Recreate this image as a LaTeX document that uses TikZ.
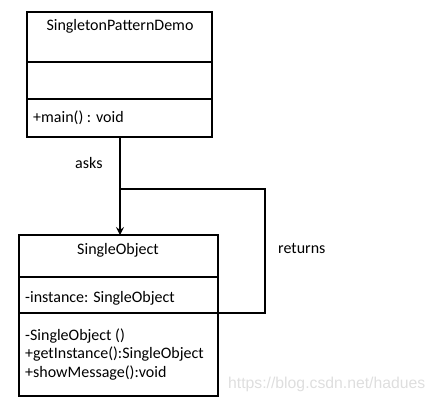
\documentclass[tikz,border=0pt]{standalone}
\usepackage{fontspec}
\setmainfont{Carlito}
\newfontfamily\markfont{Liberation Sans}
\usetikzlibrary{arrows.meta,positioning}

\begin{document}
\begin{tikzpicture}[x=1pt,y=-1pt,
    part/.style={draw,line width=1.8pt,inner sep=0pt,outer sep=0pt},
    txt/.style={font=\fontsize{16}{18.5}\selectfont,inner sep=0pt},
    link/.style={line width=2.2pt}]
  \useasboundingbox (0,0) rectangle (435,402);

  % SingletonPatternDemo class
  \node[part,minimum width=185,minimum height=50,anchor=north] (demoname) at (119.5,12) {};
  \node[part,minimum width=185,minimum height=37,below=0pt of demoname] (demoattr) {};
  \node[part,minimum width=185,minimum height=38,below=0pt of demoattr] (demoops) {};
  \node[txt,anchor=base] (demotitle) at (120,30) {SingletonPatternDemo};
  \node[txt,anchor=base west] (demomain) at (33,122) {+main() : void};

  % SingleObject class
  \node[part,minimum width=199,minimum height=42,anchor=north] (singlename) at (118.5,235) {};
  \node[part,minimum width=199,minimum height=36,below=0pt of singlename] (singleattr) {};
  \node[part,minimum width=199,minimum height=83,below=0pt of singleattr] (singleops) {};
  \node[txt,anchor=base] (singletitle) at (118,254) {SingleObject};
  \node[txt,anchor=base west] (singleinst) at (25,302) {-instance: SingleObject};
  \node[txt,anchor=base west] (singlector) at (25,340) {-SingleObject ()};
  \node[txt,anchor=base west] (singleget) at (25,358.5) {+getInstance():SingleObject};
  \node[txt,anchor=base west] (singleshow) at (25,377) {+showMessage():void};

  % connectors
  \coordinate (join) at (120,189);
  \draw[link,-{Stealth[length=8pt,width=8pt,inset=3pt]}] (demoops.south -| join) -- (singlename.north -| join);
  \draw[link] (singleops.north east) -- ++(47,0) |- (join);
  \node[txt,anchor=base west] (asks) at (75,168) {asks};
  \node[txt,anchor=base west] (returns) at (278,253) {returns};

  % watermark
  \node[font=\markfont\fontsize{15.75}{18}\selectfont,text=black!13,inner sep=0pt,anchor=base west]
    (mark) at (228,388) {https://blog.csdn.net/hadues};
\end{tikzpicture}
\end{document}
